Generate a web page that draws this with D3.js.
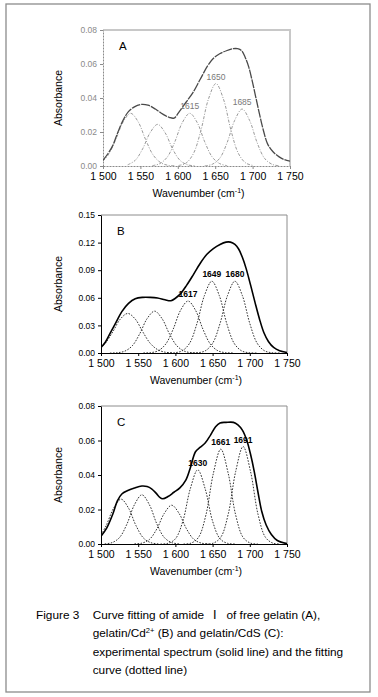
<!DOCTYPE html>
<html>
<head>
<meta charset="utf-8">
<script src="https://cdnjs.cloudflare.com/ajax/libs/d3/7.8.5/d3.min.js"></script>
<style>
body { margin: 0; background: #fff; }
svg { display: block; font-family: "Liberation Sans", Arial, sans-serif; }
</style>
</head>
<body>
<svg id="figure" width="378" height="697"></svg>
<script>

// x axis (shared by all three panels)
var wavenumberTicks = [1500, 1550, 1600, 1650, 1700, 1750];
var wavenumberLabels = ["1 500", "1 550", "1 600", "1 650", "1 700", "1 750"];

// y ticks per panel
var yTicksA = [0, 0.02, 0.04, 0.06, 0.08];
var yTicksB = [0, 0.03, 0.06, 0.09, 0.12, 0.15];
var yTicksC = [0, 0.02, 0.04, 0.06, 0.08];

// panel A: free gelatin, [wavenumber, absorbance]
var spectrumA = [[1500,0.0034],[1507,0.0075],[1513,0.012],[1520,0.020],[1527,0.027],[1534,0.032],[1542,0.0348],[1551,0.0362],[1560,0.0358],[1570,0.0335],[1580,0.0305],[1589,0.0285],[1595,0.0282],[1602,0.032],[1611,0.0375],[1620,0.043],[1630,0.051],[1640,0.059],[1648,0.0635],[1656,0.066],[1665,0.0678],[1674,0.069],[1680,0.069],[1685,0.068],[1690,0.064],[1695,0.058],[1700,0.049],[1705,0.039],[1710,0.029],[1715,0.020],[1720,0.013],[1727,0.0085],[1735,0.0055],[1742,0.0038],[1750,0.0028]];
var componentsA = [
  [[1500,0.0029],[1507,0.0065],[1517,0.0155],[1527,0.026],[1537,0.031],[1547,0.026],[1557,0.0155],[1567,0.0065],[1577,0.002],[1587,0.0004],[1597,0.0001]],
  [[1533,0.0007],[1543,0.0033],[1553,0.0101],[1563,0.0196],[1573,0.0245],[1583,0.0196],[1593,0.0101],[1603,0.0033],[1613,0.0007],[1623,0.0001]],
  [[1566,0.0002],[1576,0.0014],[1586,0.0053],[1596,0.0142],[1606,0.0255],[1616,0.031],[1626,0.0255],[1636,0.0142],[1646,0.0053],[1656,0.0014],[1666,0.0002]],
  [[1601,0.0003],[1611,0.0017],[1621,0.0074],[1631,0.0211],[1641,0.0394],[1651,0.0485],[1661,0.0394],[1671,0.0211],[1681,0.0074],[1691,0.0017],[1701,0.0003]],
  [[1636,0.0001],[1646,0.001],[1656,0.0045],[1666,0.0138],[1676,0.0268],[1686,0.0335],[1696,0.0268],[1706,0.0138],[1716,0.0045],[1726,0.001],[1736,0.0001]]
];
var peakLabelsA = [null, null, "1615", "1650", "1685"];

// panel B: gelatin/Cd2+
var spectrumB = [[1500,0.006],[1506,0.012],[1512,0.021],[1520,0.033],[1528,0.045],[1537,0.054],[1546,0.059],[1556,0.0605],[1566,0.0605],[1576,0.0598],[1586,0.0578],[1594,0.0568],[1600,0.0595],[1607,0.0645],[1615,0.0735],[1624,0.085],[1633,0.097],[1642,0.107],[1651,0.1135],[1660,0.118],[1668,0.1205],[1674,0.1205],[1680,0.118],[1685,0.113],[1690,0.104],[1695,0.092],[1701,0.074],[1707,0.055],[1713,0.037],[1719,0.022],[1725,0.0125],[1732,0.006],[1740,0.0025],[1750,0.0006]];
var componentsB = [
  [[1500,0.0058],[1506,0.0107],[1516,0.0232],[1526,0.0369],[1536,0.043],[1546,0.0369],[1556,0.0232],[1566,0.0107],[1576,0.0037],[1586,0.0009],[1596,0.0002]],
  [[1512,0.0000],[1522,0.0003],[1532,0.002],[1542,0.0078],[1552,0.0208],[1562,0.0374],[1572,0.0455],[1582,0.0374],[1592,0.0208],[1602,0.0078],[1612,0.002],[1622,0.0003],[1632,0]],
  [[1557,0.0001],[1567,0.0004],[1577,0.0025],[1587,0.0097],[1597,0.0259],[1607,0.0465],[1617,0.0565],[1627,0.0465],[1637,0.0259],[1647,0.0097],[1657,0.0025],[1667,0.0004],[1677,0.0001]],
  [[1589,0],[1599,0.0003],[1609,0.0023],[1619,0.0105],[1629,0.0321],[1639,0.0624],[1649,0.078],[1659,0.0624],[1669,0.0321],[1679,0.0105],[1689,0.0023],[1699,0.0003],[1709,0]],
  [[1620,0],[1630,0.0003],[1640,0.0023],[1650,0.0105],[1660,0.0321],[1670,0.0624],[1680,0.078],[1690,0.0624],[1700,0.0321],[1710,0.0105],[1720,0.0023],[1730,0.0003],[1740,0]]
];
var peakLabelsB = [null, null, "1617", "1649", "1680"];

// panel C: gelatin/CdS
var spectrumC = [[1500,0.0045],[1508,0.0095],[1516,0.0175],[1522,0.025],[1528,0.029],[1536,0.031],[1545,0.0325],[1555,0.0336],[1562,0.0333],[1568,0.032],[1574,0.0295],[1579,0.027],[1583,0.0262],[1590,0.0275],[1598,0.030],[1606,0.0325],[1614,0.037],[1620,0.044],[1627,0.0535],[1633,0.056],[1640,0.0585],[1647,0.063],[1654,0.068],[1660,0.0702],[1668,0.0705],[1678,0.0705],[1684,0.069],[1690,0.066],[1696,0.060],[1701,0.052],[1706,0.042],[1711,0.030],[1716,0.019],[1722,0.011],[1729,0.0055],[1737,0.002],[1750,0.0002]];
var componentsC = [
  [[1500,0.0052],[1507,0.0107],[1517,0.0208],[1527,0.026],[1537,0.0208],[1547,0.0107],[1557,0.0035],[1567,0.00075],[1577,0.0001]],
  [[1505,0.0001],[1515,0.0008],[1525,0.0038],[1535,0.0117],[1545,0.0228],[1555,0.0285],[1565,0.0228],[1575,0.0117],[1585,0.0038],[1595,0.0008],[1605,0.0001]],
  [[1545,0.0001],[1555,0.0005],[1565,0.0026],[1575,0.0087],[1585,0.0177],[1595,0.0225],[1605,0.0177],[1615,0.0087],[1625,0.0026],[1635,0.0005],[1645,0.0001]],
  [[1580,0],[1590,0.0004],[1600,0.003],[1610,0.0132],[1620,0.032],[1630,0.043],[1640,0.032],[1650,0.0132],[1660,0.003],[1670,0.0004],[1680,0]],
  [[1611,0],[1621,0.0005],[1631,0.0038],[1641,0.0168],[1651,0.0409],[1661,0.055],[1671,0.0409],[1681,0.0168],[1691,0.0038],[1701,0.0005],[1711,0]],
  [[1641,0],[1651,0.0005],[1661,0.0039],[1671,0.0173],[1681,0.042],[1691,0.0565],[1701,0.042],[1711,0.0173],[1721,0.0039],[1731,0.0005],[1741,0]]
];
var peakLabelsC = [null, null, null, "1630", "1661", "1691"];

// caption
var captionLines = [
  "Curve fitting of amide\u2002 \u2160\u2002 of free gelatin (A),",
  "gelatin/Cd|2+| (B) and gelatin/CdS (C):",
  "experimental spectrum (solid line) and the fitting",
  "curve (dotted line)"
];


SpectrumPanel = function(_svg, _box, _letter, _yTicks, _spectrum, _components, _peakLabels, _faded) {
    this.svg = _svg;
    this.box = _box;
    this.letter = _letter;
    this.yTicks = _yTicks;
    this.spectrum = _spectrum;
    this.components = _components;
    this.peakLabels = _peakLabels;
    this.faded = _faded;
    this.initVis();
}

SpectrumPanel.prototype.initVis = function() {
    var vis = this;
    var b = vis.box;

    vis.x = d3.scaleLinear().domain([1500, 1750]).range([b.left, b.right]);
    vis.y = d3.scaleLinear().domain([0, d3.max(vis.yTicks)]).range([b.bottom, b.top]);

    vis.g = vis.svg.append("g").attr("class", "panel-" + vis.letter);

    vis.g.append("clipPath").attr("id", "clip-" + vis.letter)
        .append("rect")
        .attr("x", b.left).attr("y", b.top - 20)
        .attr("width", b.right - b.left).attr("height", b.bottom - b.top + 20);

    vis.updateVis();
}

SpectrumPanel.prototype.updateVis = function() {
    var vis = this;
    var b = vis.box;
    var axisColor = vis.faded ? "#8a8a8a" : "#000";
    var frameColor = vis.faded ? "#c8c8c8" : "#8c8c8c";

    // top + right frame
    vis.g.append("path")
        .attr("d", "M" + b.left + "," + b.top + "H" + b.right + "V" + b.bottom)
        .attr("fill", "none")
        .attr("stroke", frameColor)
        .attr("stroke-width", vis.faded ? 2 : 1);

    var xAxis = d3.axisBottom(vis.x)
        .tickValues(wavenumberTicks)
        .tickFormat(function(d, i) { return wavenumberLabels[i]; })
        .tickSize(3).tickSizeOuter(0).tickPadding(4);
    var gx = vis.g.append("g")
        .attr("transform", "translate(0," + b.bottom + ")")
        .call(xAxis);
    gx.select(".domain").attr("stroke", axisColor).attr("stroke-dasharray", vis.faded ? "2,1" : null);
    gx.selectAll(".tick line").attr("stroke", axisColor);
    gx.selectAll("text").attr("font-size", 10.5).attr("fill", "#000")
        .attr("font-family", "Liberation Sans, Arial, sans-serif");

    var yAxis = d3.axisLeft(vis.y)
        .tickValues(vis.yTicks)
        .tickFormat(d3.format(".2f"))
        .tickSize(3).tickSizeOuter(0).tickPadding(3);
    var gy = vis.g.append("g")
        .attr("transform", "translate(" + b.left + ",0)")
        .call(yAxis);
    gy.select(".domain").attr("stroke", axisColor).attr("stroke-dasharray", vis.faded ? "2,1" : null);
    gy.selectAll(".tick line").attr("stroke", axisColor);
    gy.selectAll("text").attr("font-size", 8.5).attr("fill", vis.faded ? "#8a8a8a" : "#000")
        .attr("font-family", "Liberation Sans, Arial, sans-serif");

    // axis titles
    vis.g.append("text")
        .attr("transform", "translate(62," + ((b.top + b.bottom) / 2) + ") rotate(-90)")
        .attr("text-anchor", "middle")
        .attr("font-size", 10.5)
        .text("Absorbance");

    var xt = vis.g.append("text")
        .attr("x", (b.left + b.right) / 2 + 2)
        .attr("y", b.bottom + 30.5)
        .attr("text-anchor", "middle")
        .attr("font-size", 10.5);
    xt.append("tspan").text("Wavenumber (cm");
    xt.append("tspan").attr("dy", -4).attr("font-size", 7).text("-1");
    xt.append("tspan").attr("dy", 4).text(")");

    vis.g.append("text")
        .attr("x", b.left + 16)
        .attr("y", b.top + 19.5)
        .attr("font-size", 11.5)
        .text(vis.letter);

    var line = d3.line()
        .x(function(d) { return vis.x(d[0]); })
        .y(function(d) { return vis.y(d[1]); })
        .curve(d3.curveCatmullRom.alpha(0.5));

    var plot = vis.g.append("g").attr("clip-path", "url(#clip-" + vis.letter + ")");

    // fitted bands (dotted)
    plot.selectAll(".band")
        .data(vis.components)
        .enter()
        .append("path")
        .attr("class", "band")
        .attr("d", line)
        .attr("fill", "none")
        .attr("stroke", vis.faded ? "#9a9a9a" : "#333")
        .attr("stroke-width", 1)
        .attr("stroke-dasharray", vis.faded ? "3,1.5,1,1.5" : "1.6,1.4");

    // experimental spectrum (solid)
    plot.append("path")
        .datum(vis.spectrum)
        .attr("d", line)
        .attr("fill", "none")
        .attr("stroke", vis.faded ? "#4a4a4a" : "#000")
        .attr("stroke-width", vis.faded ? 1.3 : 1.6)
        .attr("stroke-dasharray", vis.faded ? "9,1" : null);

    // peak position labels
    var labelled = vis.components
        .map(function(c, i) {
            var top = c.reduce(function(a, p) { return p[1] > a[1] ? p : a; });
            return { peak: top, text: vis.peakLabels[i] };
        })
        .filter(function(d) { return d.text; });

    vis.g.selectAll(".peak-label")
        .data(labelled)
        .enter()
        .append("text")
        .attr("class", "peak-label")
        .attr("x", function(d) { return vis.x(d.peak[0]); })
        .attr("y", function(d) { return vis.y(d.peak[1]) - 4; })
        .attr("text-anchor", "middle")
        .attr("font-size", 8.5)
        .attr("font-weight", vis.faded ? "normal" : "bold")
        .attr("fill", vis.faded ? "#7a7a7a" : "#000")
        .text(function(d) { return d.text; });
}


var svg = d3.select("#figure");

// outer frame
svg.append("rect")
    .attr("x", 6).attr("y", 4)
    .attr("width", 364).attr("height", 688)
    .attr("fill", "none")
    .attr("stroke", "#8c8c8c")
    .attr("stroke-width", 1.3);

new SpectrumPanel(svg, {left: 103, right: 290, top: 30, bottom: 166}, "A", yTicksA, spectrumA, componentsA, peakLabelsA, true);
new SpectrumPanel(svg, {left: 101, right: 287, top: 215, bottom: 353}, "B", yTicksB, spectrumB, componentsB, peakLabelsB, false);
new SpectrumPanel(svg, {left: 101, right: 287, top: 406, bottom: 544}, "C", yTicksC, spectrumC, componentsC, peakLabelsC, false);

// caption
var cap = svg.append("g").attr("font-size", 11.8).attr("fill", "#000");
cap.append("text").attr("x", 36).attr("y", 619).text("Figure 3");
captionLines.forEach(function(s, i) {
    var t = cap.append("text").attr("x", 92.7).attr("y", 619 + i * 18.4);
    var parts = s.split("|");
    t.append("tspan").text(parts[0]);
    if (parts.length > 1) {
        t.append("tspan").attr("dy", -4.5).attr("font-size", 7.5).text(parts[1]);
        t.append("tspan").attr("dy", 4.5).text(parts[2]);
    }
});

</script>
</body>
</html>
